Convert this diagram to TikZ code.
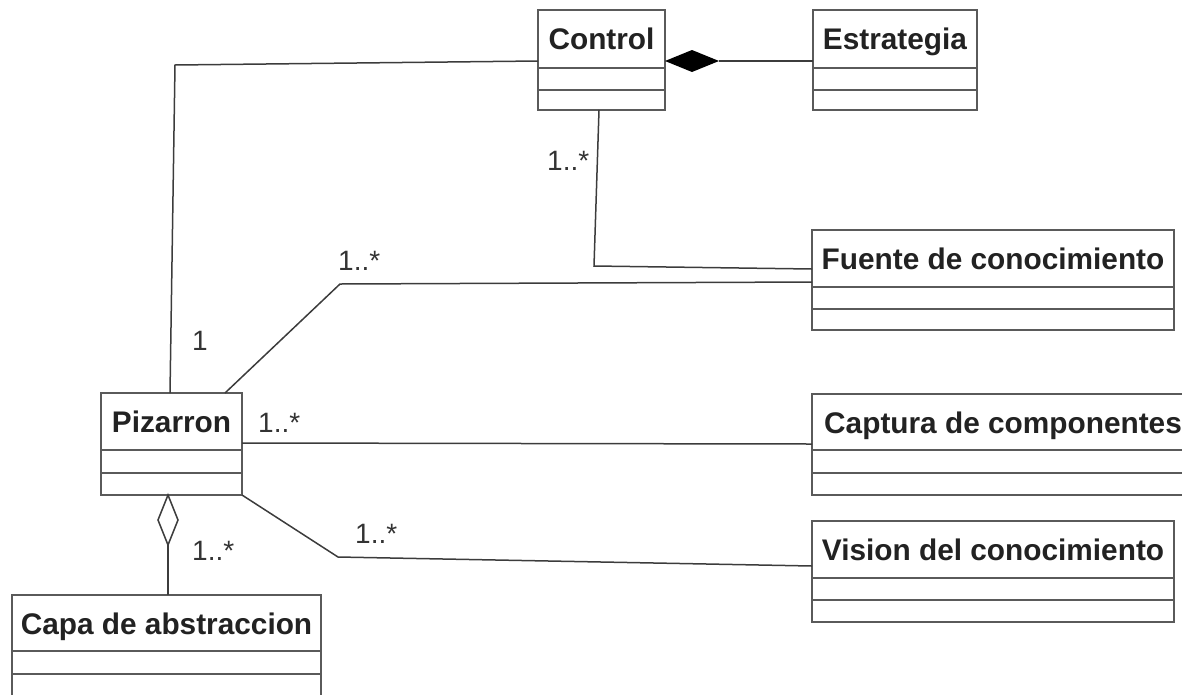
\documentclass[tikz,border=0pt]{standalone}
\usepackage{fontspec}
\setmainfont{Liberation Sans}
\usetikzlibrary{calc}

\definecolor{boxline}{HTML}{5A5A5A}
\definecolor{wire}{HTML}{3C3C3C}
\definecolor{ink}{HTML}{222222}
\definecolor{multink}{HTML}{333333}

\tikzset{
  classbox/.style={draw=boxline, line width=2pt, fill=white, inner sep=0pt, outer sep=0pt},
  classname/.style={font=\fontsize{29.8}{32}\selectfont\bfseries, text=ink, inner sep=0pt, anchor=base},
  divider/.style={draw=boxline, line width=2pt},
  assoc/.style={draw=wire, line width=1.5pt, line join=miter},
  mult/.style={font=\fontsize{28}{30}\selectfont, text=multink, inner sep=0pt, anchor=base west},
}

% UML class: name, left, top, width, height, divider 1, divider 2, title
\newcommand\umlclass[8]{%
  \node[classbox, minimum width=#4pt, minimum height=#5pt, anchor=north west] (#1) at (#2,#3) {};
  \node[classname] (#1-title) at ($(#1.north)+(0,39)$) {#8};
  \draw[divider] ($(#1.north west)+(0,#6)$) -- ($(#1.north east)+(0,#6)$);
  \draw[divider] ($(#1.north west)+(0,#7)$) -- ($(#1.north east)+(0,#7)$);
}

\begin{document}
\begin{tikzpicture}[x=1pt, y=-1pt]
  \useasboundingbox (0,0) rectangle (1182,694);
  \clip (0,0) rectangle (1182,694);

  % classes
  \umlclass{control}{538}{10}{127}{100}{58}{80}{Control}
  \umlclass{estrategia}{813}{10}{164}{100}{58}{80}{Estrategia}
  \umlclass{fuente}{812}{230}{362}{100}{57}{79}{Fuente de conocimiento}
  \umlclass{captura}{812}{394}{382}{101}{56}{79}{}
  \node[classname, anchor=base west] (captura-name) at ($(captura.north west)+(12,39)$) {Captura de componentes};
  \umlclass{vision}{812}{521}{362}{101}{57}{79}{Vision del conocimiento}
  \umlclass{pizarron}{101}{393}{141}{102}{57}{80}{Pizarron}
  \umlclass{capa}{12}{595}{309}{104}{56}{79}{Capa de abstraccion}

  % bend points of the association lines
  \coordinate (cpTop) at (175,65);
  \coordinate (cfBend) at (594,266);
  \coordinate (pfBend) at (340,284);
  \coordinate (pvBend) at (338,557);

  % Control <>-- Estrategia (composition)
  \coordinate (compA) at ($(control.north west)+(127,51)$);
  \coordinate (compB) at ($(compA)+(54,0)$);
  \draw[assoc] (compB) -- ($(estrategia.north west)+(0,51)$);
  \fill[black] (compA) -- ($(compA)+(27,-11)$) -- (compB) -- ($(compA)+(27,11)$) -- cycle;

  % Control -- Pizarron
  \draw[assoc] ($(control.north west)+(0,51)$) -- (cpTop) -- ($(pizarron.north)+(-1.5,0)$);

  % Control -- Fuente de conocimiento
  \draw[assoc] ($(control.south)+(-2.5,0)$) -- (cfBend) -- ($(fuente.north west)+(0,39)$);

  % Pizarron -- Fuente de conocimiento
  \draw[assoc] ($(pizarron.north west)+(124,0)$) -- (pfBend) -- ($(fuente.north west)+(0,52)$);

  % Pizarron -- Captura de componentes
  \draw[assoc] ($(pizarron.north east)+(0,50)$) -- ($(captura.north west)+(0,50)$);

  % Pizarron -- Vision del conocimiento
  \draw[assoc] (pizarron.south east) -- (pvBend) -- ($(vision.north west)+(0,45)$);

  % Pizarron <>-- Capa de abstraccion (aggregation)
  \coordinate (aggA) at ($(pizarron.south)+(-3.5,0)$);
  \coordinate (aggB) at ($(aggA)+(0,50)$);
  \draw[assoc] (aggB) -- (capa.north -| aggB);
  \draw[assoc, fill=white] (aggA) -- ($(aggA)+(-10,25)$) -- (aggB) -- ($(aggA)+(10,25)$) -- cycle;

  % multiplicities
  \node[mult] (mCtrlPiz) at (192,350) {1};
  \node[mult] (mCtrlFue) at (547,170) {1..*};
  \node[mult] (mPizFue) at (338,270) {1..*};
  \node[mult] (mPizCap) at (258,432) {1..*};
  \node[mult] (mPizVis) at (355,543) {1..*};
  \node[mult] (mPizCapa) at (192,560) {1..*};
\end{tikzpicture}
\end{document}
